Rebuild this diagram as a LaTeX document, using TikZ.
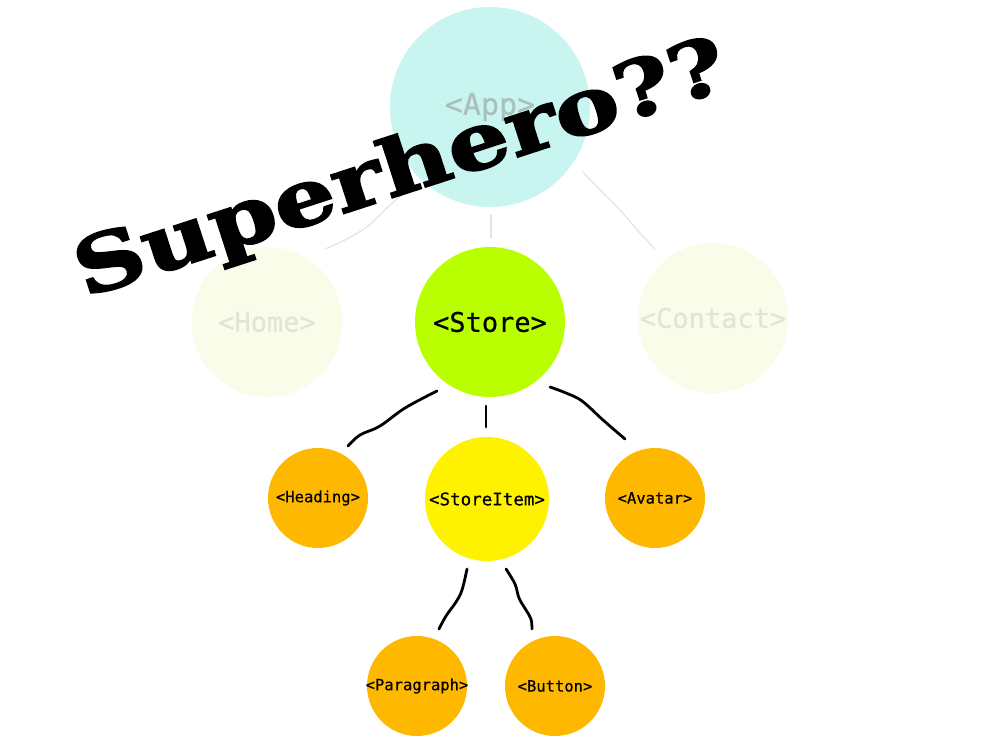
\documentclass[tikz,border=0pt]{standalone}
\usepackage{fontspec}
\setmonofont[FakeBold=0.4]{DejaVu Sans Mono}
\newfontfamily\herofont[FakeBold=2.2]{DejaVu Serif Bold}
\definecolor{appfill}{HTML}{C9F5F0}
\definecolor{apptext}{HTML}{A9C0BE}
\definecolor{palefill}{HTML}{F8FCE8}
\definecolor{paletext}{HTML}{E0E6D5}
\definecolor{storefill}{HTML}{B9FF00}
\definecolor{itemfill}{HTML}{FFF200}
\definecolor{leaffill}{HTML}{FFB800}
\definecolor{faintline}{HTML}{E2E2E2}
\begin{document}
\begin{tikzpicture}[x=1pt,y=-1pt,
  bubble/.style={circle,inner sep=0pt,draw=none},
  graylink/.style={draw=faintline,line width=1.1pt,line cap=round},
  inklink/.style={draw=black,line width=2.8pt,line cap=round,line join=round},
  bigtxt/.style={font=\ttfamily\fontsize{27}{27}\selectfont},
  smalltxt/.style={font=\ttfamily\fontsize{15.5}{16}\selectfont}]
\useasboundingbox (0,0) rectangle (982,744);
\fill[white] (0,0) rectangle (982,744);

% link end points
\coordinate (ah1) at (404,193); \coordinate (ah2) at (325,249);
\coordinate (as1) at (491,215); \coordinate (as2) at (491,238);
\coordinate (ac1) at (583,172); \coordinate (ac2) at (655,249);
\coordinate (sh1) at (437,391); \coordinate (sh2) at (348,446);
\coordinate (si1) at (486,406); \coordinate (si2) at (486,427);
\coordinate (sa1) at (550,387); \coordinate (sa2) at (625,439);
\coordinate (ip1) at (467,569); \coordinate (ip2) at (439,629);
\coordinate (ib1) at (506,569); \coordinate (ib2) at (532,629);

% faint links from App
\draw[graylink] plot[smooth,tension=0.6] coordinates {(ah1) (388,207) (368,226) (345,240) (ah2)};
\draw[graylink] (as1) -- (as2);
\draw[graylink] plot[smooth,tension=0.6] coordinates {(ac1) (600,190) (620,210) (640,233) (ac2)};

% ink links
\draw[inklink] plot[smooth,tension=0.6] coordinates {(sh1) (405,408) (380,426) (360,435) (sh2)};
\draw[inklink] (si1) -- (si2);
\draw[inklink] plot[smooth,tension=0.6] coordinates {(sa1) (566,393) (582,401) (603,420) (sa2)};
\draw[inklink] plot[smooth,tension=0.6] coordinates {(ip1) (462,590) (456,602) (446,616) (ip2)};
\draw[inklink] plot[smooth,tension=0.6] coordinates {(ib1) (515,584) (519,598) (526,610) (531,619) (ib2)};

% bubbles
\node[bubble,fill=appfill,minimum size=200pt,
  label={[font=\ttfamily\fontsize{30}{30}\selectfont,text=apptext]center:{<App>}}] (app) at (490,107) {};
\node[bubble,fill=palefill,minimum size=150pt,
  label={[bigtxt,text=paletext]center:{<Home>}}] (home) at (267,322) {};
\node[bubble,fill=palefill,minimum size=150pt,
  label={[bigtxt,text=paletext]center:{<Contact>}}] (contact) at (713,318) {};
\node[bubble,fill=storefill,minimum size=150pt,
  label={[bigtxt,text=black]center:{<Store>}}] (store) at (490,322) {};
\node[bubble,fill=leaffill,minimum size=100pt,
  label={[smalltxt]center:{<Heading>}}] (heading) at (318,498) {};
\node[bubble,fill=itemfill,minimum size=124pt,
  label={[font=\ttfamily\fontsize{17.5}{18}\selectfont]center:{<StoreItem>}}] (storeitem) at (487,499) {};
\node[bubble,fill=leaffill,minimum size=100pt,
  label={[smalltxt]center:{<Avatar>}}] (avatar) at (655,498) {};
\node[bubble,fill=leaffill,minimum size=100pt,
  label={[smalltxt]center:{<Paragraph>}}] (paragraph) at (417,686) {};
\node[bubble,fill=leaffill,minimum size=100pt,
  label={[smalltxt]center:{<Button>}}] (button) at (555,686) {};

% overlay title
\node[rotate=18,inner sep=0pt] (hero) at (402,172)
  {\scalebox{1.24}[1]{\herofont\fontsize{78}{78}\selectfont Superhero??}};
\end{tikzpicture}
\end{document}
